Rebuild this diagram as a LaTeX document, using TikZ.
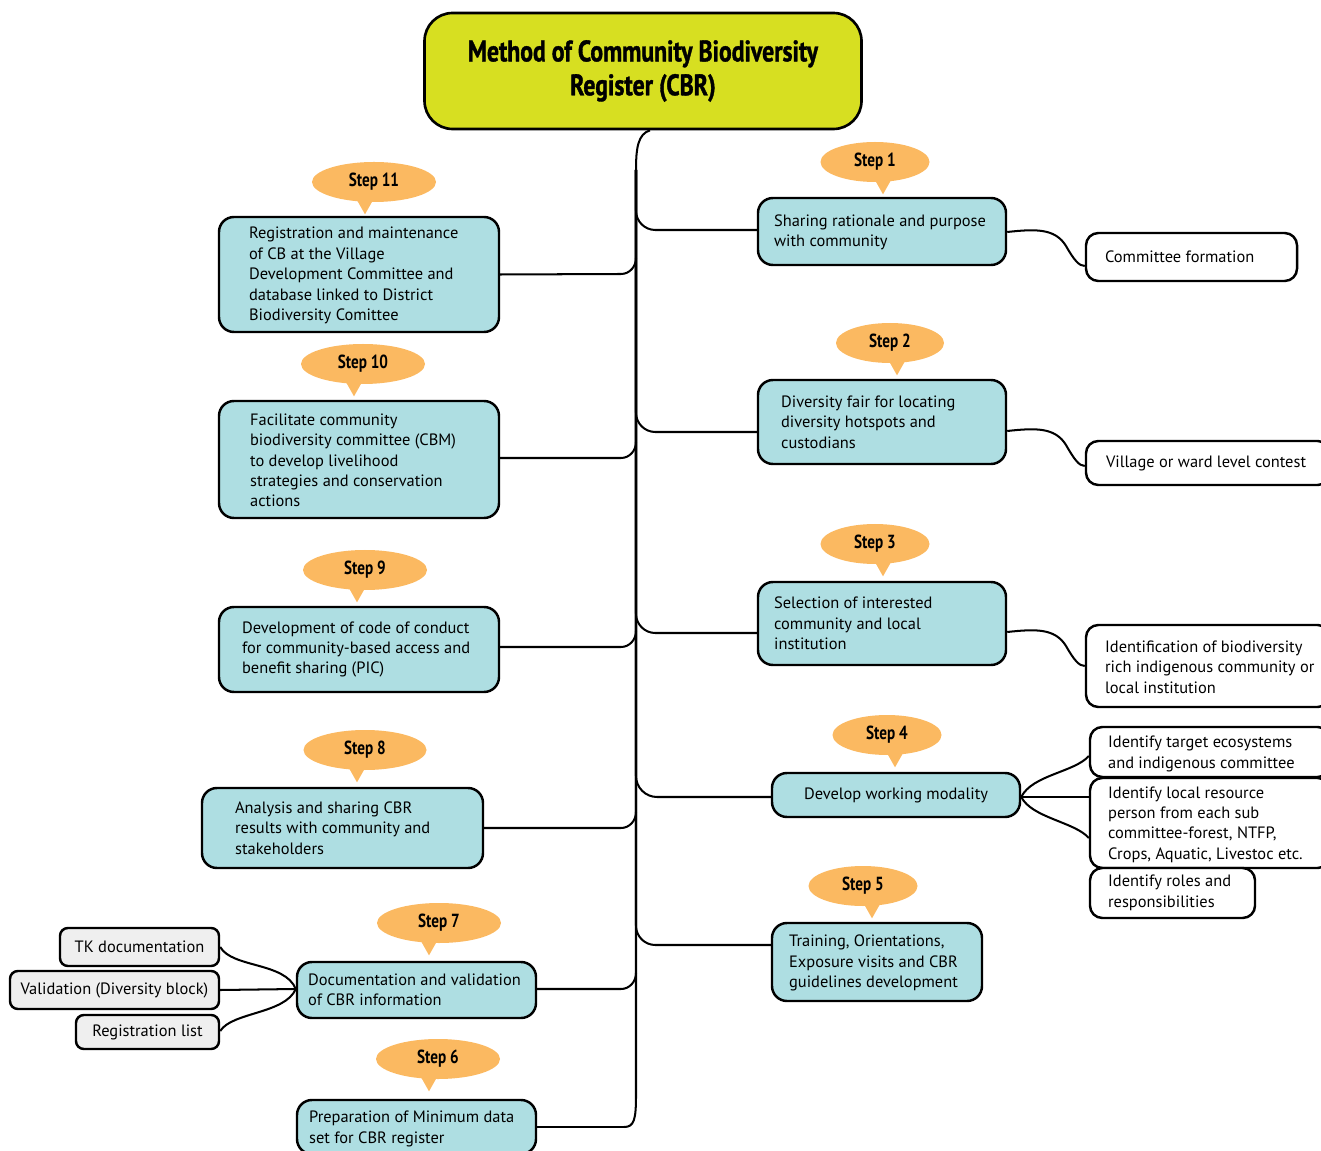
\documentclass[tikz,border=0pt]{standalone}
\usepackage{fontspec}
\setmainfont{PT Sans}
\newfontfamily\condb[FakeStretch=0.8]{PT Sans}
\newfontfamily\condbb[FakeStretch=0.8, FakeBold=1.2]{PT Sans Bold}
\usetikzlibrary{shapes.geometric,calc}
\newlength\pxu \setlength\pxu{0.02cm}
\definecolor{cbyellow}{HTML}{D7DF21}
\definecolor{cbblue}{HTML}{AEDEE2}
\definecolor{stepor}{HTML}{FBB961}
\definecolor{gbox}{HTML}{EFEFEF}
\newcommand\stepbubble[6]{%
  \node[stepb, minimum width=#6\pxu] (#1) at (#2,#3) {#5};
  \fill[stepor] ($(#1.south)+(#4-9,-4)$) -- ($(#1.south)+(#4,12)$) -- ($(#1.south)+(#4+9,-4)$) -- cycle;}
\tikzset{
  bodyf/.style={font=\fontsize{9.35}{11.6}\selectfont},
  conn/.style={line width=1.15pt, draw=black},
  titlebox/.style={draw, line width=1.5pt, fill=cbyellow, rounded corners=16pt, align=center, inner sep=0pt,
     font=\condbb\fontsize{16.9}{19.3}\selectfont},
  bbox/.style={draw, line width=1.4pt, fill=cbblue, rounded corners=8.5pt, inner sep=0pt},
  wbox/.style={draw, line width=1.4pt, fill=white, rounded corners=7pt, inner sep=0pt},
  gbx/.style={draw, line width=1.4pt, fill=gbox, rounded corners=4.5pt, inner sep=0pt, bodyf},
  txt/.style={anchor=west, align=left, inner sep=0pt, bodyf},
  stepb/.style={ellipse, fill=stepor, minimum height=40\pxu, inner sep=0pt,
     font=\condb\bfseries\fontsize{10.8}{12}\selectfont},
}
\begin{document}
\begin{tikzpicture}[x=0.02cm, y=-0.02cm]
\useasboundingbox (0,0) rectangle (1321,1151);

% title
\node[titlebox, minimum width=437\pxu, minimum height=116\pxu] (t) at (643,71) {Method of Community Biodiversity\\Register (CBR)};

% trunk
\draw[conn] (t.south -| 650,0) .. controls (638,134) and (636,148) .. (636,170) -- (636,1095) .. controls (636,1120) and (634,1127) .. (624,1127);
\coordinate (tt) at (636,170);

% blue boxes
\node[bbox, minimum width=248\pxu, minimum height=67\pxu] (b1) at (882,231.5) {};
\node[bbox, minimum width=248\pxu, minimum height=84\pxu] (b2) at (882,422) {};
\node[bbox, minimum width=248\pxu, minimum height=83\pxu] (b3) at (882,623.5) {};
\node[bbox, minimum width=248\pxu, minimum height=44\pxu, bodyf] (b4) at (896,795) {Develop working modality};
\node[bbox, minimum width=210\pxu, minimum height=78\pxu] (b5) at (877,962) {};
\node[bbox, minimum width=239\pxu, minimum height=54\pxu] (b6) at (416.5,1127) {};
\node[bbox, minimum width=239\pxu, minimum height=56\pxu] (b7) at (416.5,990) {};
\node[bbox, minimum width=281\pxu, minimum height=80\pxu] (b8) at (342.5,828) {};
\node[bbox, minimum width=280\pxu, minimum height=85\pxu] (b9) at (359,649.5) {};
\node[bbox, minimum width=280\pxu, minimum height=117\pxu] (b10) at (359,459.5) {};
\node[bbox, minimum width=280\pxu, minimum height=115\pxu] (b11) at (359,274.5) {};

\node[txt] (b1t) at ([xshift=17\pxu,yshift=-1\pxu]b1.west) {Sharing rationale and purpose\\with community};
\node[txt] (b2t) at ([xshift=24\pxu]b2.west) {Diversity fair for locating\\diversity hotspots and\\custodians};
\node[txt] (b3t) at ([xshift=17\pxu]b3.west) {Selection of interested\\community and local\\institution};
\node[txt] (b5t) at ([xshift=18\pxu,yshift=-1\pxu]b5.west) {Training, Orientations,\\Exposure visits and CBR\\guidelines development};
\node[txt] (b6t) at ([xshift=13\pxu,yshift=-2\pxu]b6.west) {Preparation of Minimum data\\set for CBR register};
\node[txt] (b7t) at ([xshift=12\pxu]b7.west) {Documentation and validation\\of CBR information};
\node[txt] (b8t) at ([xshift=34\pxu]b8.west) {Analysis and sharing CBR\\results with community and\\stakeholders};
\node[txt] (b9t) at ([xshift=24\pxu]b9.west) {Development of code of conduct\\for community-based access and\\benefit sharing (PIC)};
\node[txt] (b10t) at ([xshift=32\pxu,yshift=-1\pxu]b10.west) {Facilitate community\\biodiversity committee (CBM)\\to develop livelihood\\strategies and conservation\\actions};
\node[txt] (b11t) at ([xshift=31\pxu,yshift=-1\pxu]b11.west) {Registration and maintenance\\of CB at the Village\\Development Committee and\\database linked to District\\Biodiversity Comittee};

% white boxes
\node[wbox, minimum width=211\pxu, minimum height=48\pxu] (w1) at (1191.5,257) {};
\node[wbox, minimum width=244\pxu, minimum height=44\pxu] (w2) at (1208,463) {};
\node[wbox, minimum width=244\pxu, minimum height=82\pxu] (w3) at (1208,666) {};
\node[wbox, minimum width=240\pxu, minimum height=50\pxu] (w4) at (1210,752) {};
\node[wbox, minimum width=240\pxu, minimum height=90\pxu] (w5) at (1210,823) {};
\node[wbox, minimum width=165\pxu, minimum height=50\pxu] (w6) at (1172.5,893) {};
\node[txt] (w1t) at ([xshift=20\pxu]w1.west) {Committee formation};
\node[txt] (w2t) at ([xshift=21\pxu]w2.west) {Village or ward level contest};
\node[txt] (w3t) at ([xshift=20\pxu,yshift=-1\pxu]w3.west) {Identification of biodiversity\\rich indigenous community or\\local institution};
\node[txt] (w4t) at ([xshift=19\pxu,yshift=-2\pxu]w4.west) {Identify target ecosystems\\and indigenous committee};
\node[txt] (w5t) at ([xshift=19\pxu,yshift=-1.5\pxu]w5.west) {Identify local resource\\person from each sub\\committee-forest, NTFP,\\Crops, Aquatic, Livestoc etc.};
\node[txt] (w6t) at ([xshift=19\pxu]w6.west) {Identify roles and\\responsibilities};

% gray boxes
\node[gbx, minimum width=159\pxu, minimum height=38\pxu] (g1) at (139.5,947) {TK documentation};
\node[gbx, minimum width=209\pxu, minimum height=38\pxu] (g2) at (114.5,990) {Validation (Diversity block)};
\node[gbx, minimum width=143\pxu, minimum height=34\pxu] (g3) at (147.5,1032) {Registration list};

% step bubbles
\stepbubble{s1}{875}{162}{8}{Step 1}{109}
\stepbubble{s2}{890}{343}{7}{Step 2}{108}
\stepbubble{s3}{875}{544}{8}{Step 3}{109}
\stepbubble{s4}{887}{735}{8}{Step 4}{109}
\stepbubble{s5}{863}{886}{9}{Step 5}{109}
\stepbubble{s6}{438}{1059}{-9}{Step 6}{124}
\stepbubble{s7}{439}{923}{-10}{Step 7}{124}
\stepbubble{s8}{365}{750}{-8}{Step 8}{123}
\stepbubble{s9}{365}{570}{-8}{Step 9}{124}
\stepbubble{s10}{363}{364}{-9}{Step 10}{124}
\stepbubble{s11}{374}{182}{-9}{Step 11}{124}

% right branches
\draw[conn, rounded corners=11pt] (tt) |- (b1.west |- 0,230);
\draw[conn, rounded corners=11pt] (tt) |- (b2.west |- 0,432);
\draw[conn, rounded corners=11pt] (tt) |- (b3.west |- 0,633);
\draw[conn, rounded corners=12pt] (tt) |- (b4.west |- 0,797);
\draw[conn, rounded corners=11pt] (tt) |- (b5.west |- 0,945);

% left branches
\draw[conn] (b11.east) -- (621,274) to[out=0,in=-90] (636,258);
\draw[conn] (b10.east |- 0,458) -- (621,458) to[out=0,in=-90] (636,442);
\draw[conn] (b9.east |- 0,647) -- (621,647) to[out=0,in=-90] (636,631);
\draw[conn] (b8.east) -- (621,828) to[out=0,in=-90] (636,812);
\draw[conn] (b7.east |- 0,989) -- (621,989) to[out=0,in=-90] (636,973);
\draw[conn] (b6.east) -- (624,1127);

% sub connectors right
\draw[conn] (b1.east |- 0,232) .. controls (1035,229) and (1055,228) .. (1066,246) .. controls (1074,260) and (1079,266) .. (w1.west |- 0,266);
\draw[conn] (b2.east |- 0,431) .. controls (1035,428) and (1055,427) .. (1066,445) .. controls (1074,459) and (1079,466) .. (w2.west |- 0,466);
\draw[conn] (b3.east |- 0,632) .. controls (1035,629) and (1055,628) .. (1066,646) .. controls (1074,660) and (1079,666) .. (w3.west |- 0,666);
\draw[conn] (b4.east |- 0,797) .. controls (1032,775) and (1075,772) .. (w4.west |- 0,756);
\draw[conn] (b4.east |- 0,797) -- (w5.west |- 0,797);
\draw[conn] (b4.east |- 0,797) .. controls (1032,818) and (1075,822) .. (w5.west |- 0,838);

% sub connectors left
\draw[conn] (g1.east) .. controls (232,968) and (285,962) .. (b7.west |- 0,989);
\draw[conn] (g2.east) -- (b7.west |- 0,989);
\draw[conn] (g3.east |- 0,1031) .. controls (232,1012) and (285,1014) .. (b7.west |- 0,989);
\end{tikzpicture}
\end{document}
